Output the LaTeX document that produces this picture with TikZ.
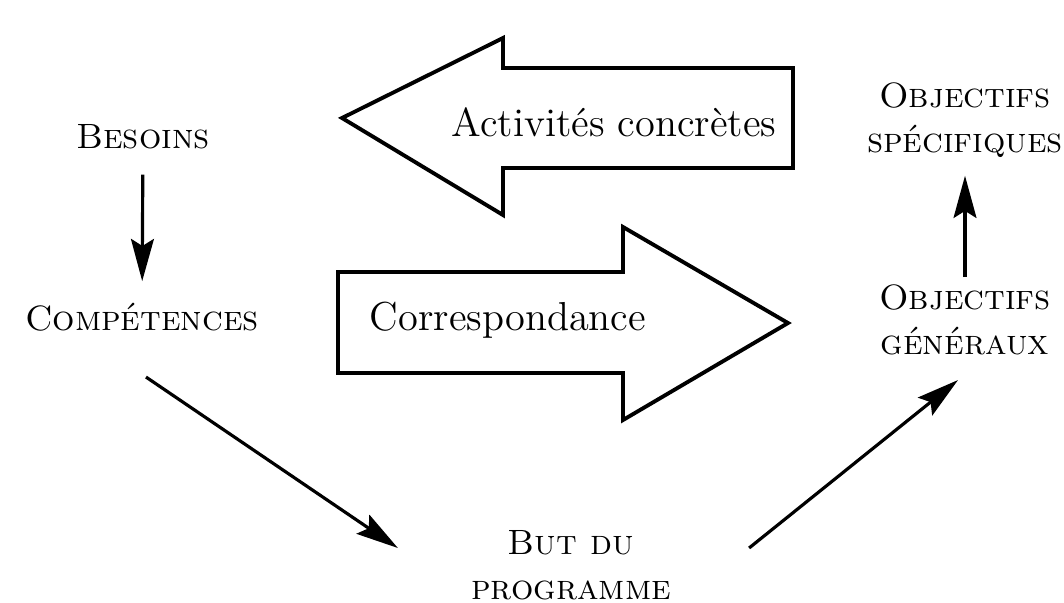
\documentclass[tikz,border=0pt]{standalone}
\usepackage{fontspec}
\usetikzlibrary{arrows.meta, positioning}

\begin{document}
\begin{tikzpicture}[x=0.01cm, y=-0.01cm,
	etiquette/.style={align=center, font=\fontsize{10}{12.8}\selectfont\scshape, inner sep=2pt},
	flow/.style={-{Stealth[length=12pt,width=6.5pt,inset=2pt]}, line width=0.9pt},
	bigarrow/.style={draw, line width=1.1pt, line join=miter},
	arrowtext/.style={font=\fontsize{11.5}{14}\selectfont}]
	\useasboundingbox (0,0) rectangle (1064,602);
	% grandes fleches
	\draw[bigarrow] (342,118) -- (503,38) -- (503,68) -- (793,68) -- (793,168) -- (503,168) -- (503,215) -- cycle;
	\draw[bigarrow] (338,272) -- (623,272) -- (623,227) -- (788,323) -- (623,420) -- (623,373) -- (338,373) -- cycle;
	\node[arrowtext] (act) at (614,122) {Activités concrètes};
	\node[arrowtext] (corr) at (508,320) {Correspondance};
	% etapes
	\node[etiquette] (besoins) at (143,137) {Besoins};
	\node[etiquette] (comp) at (142,317) {Compétences};
	\node[etiquette] (but) at (571,565) {But du\\programme};
	\node[etiquette] (objgen) at (965,320) {Objectifs\\généraux};
	\node[etiquette] (objspec) at (965,120) {Objectifs\\spécifiques};
	\draw[flow, shorten <=5pt, shorten >=4pt] (besoins) -- (comp);
	\draw[flow] ([shift={(0.04cm,-0.6cm)}]comp.center) -- ([shift={(-1.73cm,0.17cm)}]but.center);
	\draw[flow] ([shift={(1.78cm,0.17cm)}]but.center) -- ([shift={(-0.07cm,-0.6cm)}]objgen.center);
	\draw[flow, shorten >=3pt] (objgen) -- (objspec);
\end{tikzpicture}
\end{document}
